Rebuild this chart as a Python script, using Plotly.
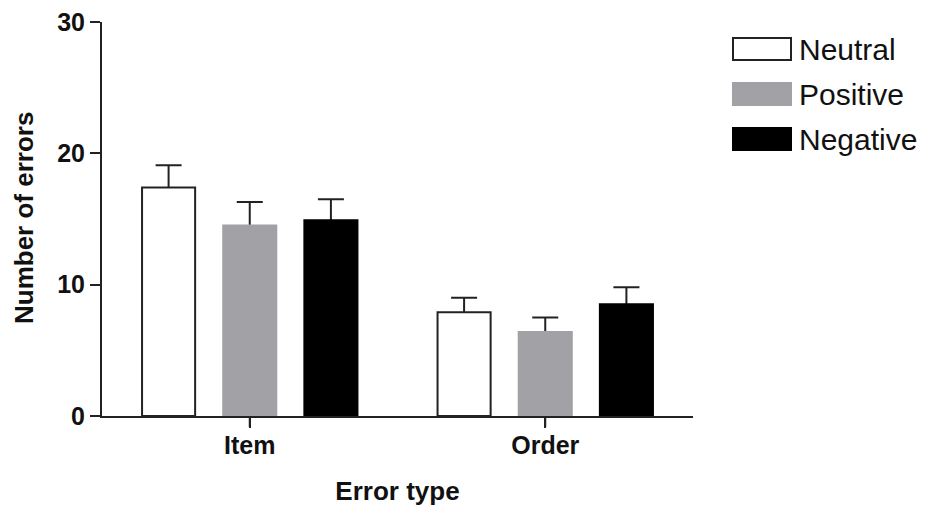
import plotly.graph_objects as go

categories = ["Item", "Order"]
series_names = ["Neutral", "Positive", "Negative"]
series_colors = ["#ffffff", "#a2a2a6", "#000000"]
series_line_colors = ["#222222", "#a2a2a6", "#000000"]
means = {
    "Neutral": [17.4, 7.9],
    "Positive": [14.5, 6.4],
    "Negative": [14.9, 8.5],
}
errors = {
    "Neutral": [1.7, 1.1],
    "Positive": [1.8, 1.1],
    "Negative": [1.6, 1.3],
}
y_ticks = [0, 10, 20, 30]

FONT = "Liberation Sans, Arial, sans-serif"

# page has an 8px body margin; work in page pixels and convert
OFF = 8
FIG_W, FIG_H = 925 - OFF, 516 - OFF
PL, PR, PT, PB = 102, 693, 22, 416          # plot area in page pixels
L, T = PL - OFF, PT - OFF
R, B = FIG_W - (PR - OFF), FIG_H - (PB - OFF)
W, H = PR - PL, PB - PT
X_RANGE = [-0.5, len(categories) - 0.5]

def px(x):
    return (x - PL) / W
def py(y):
    return (PB - y) / H

fig = go.Figure()
for name, col, lcol in zip(series_names, series_colors, series_line_colors):
    # transparent carrier for the error bar (drawn below the real bar)
    fig.add_trace(go.Bar(
        x=categories, y=means[name], name=name, offsetgroup=name,
        marker=dict(color="rgba(0,0,0,0)", line=dict(width=0)),
        error_y=dict(type="data", array=errors[name], symmetric=True,
                     color="#222222", thickness=2, width=13),
        showlegend=False, hoverinfo="skip",
    ))
    fig.add_trace(go.Bar(
        x=categories, y=means[name], name=name, offsetgroup=name,
        marker=dict(color=col, line=dict(color=lcol, width=2)),
        showlegend=False,
    ))

shapes = []
annotations = []
for i, (name, col, lcol) in enumerate(zip(series_names, series_colors, series_line_colors)):
    top = 38 + 45 * i
    shapes.append(dict(type="rect", xref="paper", yref="paper",
                       x0=px(733), x1=px(791), y0=py(top + 22), y1=py(top),
                       fillcolor=col, line=dict(color=lcol, width=2)))
    annotations.append(dict(xref="paper", yref="paper", x=px(797), y=py(top + 11),
                            xanchor="left", yanchor="middle", text=name, showarrow=False,
                            font=dict(family=FONT, size=30, color="#111111")))

# category tick marks below the x axis (positions derived from the axis range)
for idx, cat in enumerate(categories):
    xp = (idx - X_RANGE[0]) / (X_RANGE[1] - X_RANGE[0])
    shapes.append(dict(type="line", xref="paper", yref="paper", x0=xp, x1=xp,
                       y0=0, y1=-11 / H, layer="above",
                       line=dict(color="#222222", width=2)))

# y-axis title as rotated annotation
annotations.append(dict(xref="paper", yref="paper", x=px(24), y=py(218),
                        xanchor="center", yanchor="middle", textangle=-90,
                        text="Number of errors", showarrow=False,
                        font=dict(family=FONT, size=26, weight="bold", color="#111111")))

fig.update_layout(
    width=FIG_W, height=FIG_H,
    margin=dict(l=L, r=R, t=T, b=B, autoexpand=False),
    paper_bgcolor="white", plot_bgcolor="white",
    barmode="group", bargap=0.176, bargroupgap=0.346,
    shapes=shapes, annotations=annotations,
    font=dict(family=FONT, color="#111111"),
)
fig.update_xaxes(
    range=X_RANGE, tickmode="array", tickvals=categories,
    showline=True, linecolor="#222222", linewidth=2,
    ticks="outside", ticklen=10, tickwidth=2, tickcolor="#222222",
    ticklabelstandoff=-4,
    tickfont=dict(family=FONT, size=25, weight="bold", color="#111111"),
    showgrid=False, zeroline=False,
    title=dict(text="Error type", standoff=24,
               font=dict(family=FONT, size=26, weight="bold", color="#111111")),
)
fig.update_yaxes(
    range=[0, 30], tickvals=y_ticks, showline=True, linecolor="#222222", linewidth=2,
    ticks="outside", ticklen=10, tickwidth=2, tickcolor="#222222",
    tickfont=dict(family=FONT, size=25, weight="bold", color="#111111"),
    ticklabeloverflow="allow",
    showgrid=False, zeroline=False,
)
fig.write_html("out.html")
